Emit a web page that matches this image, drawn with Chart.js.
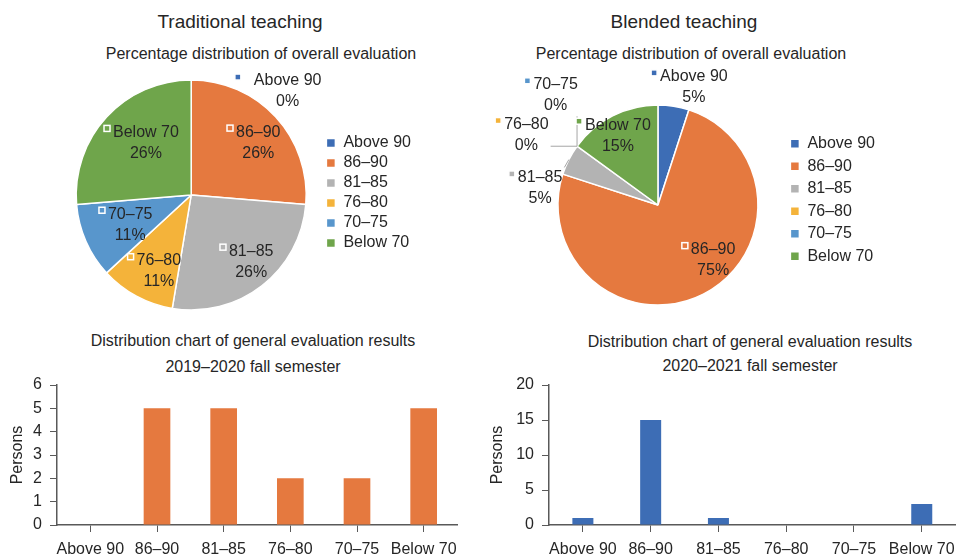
<!DOCTYPE html>
<html>
<head>
<meta charset="utf-8">
<script src="https://cdn.jsdelivr.net/npm/chart.js@4.4.1/dist/chart.umd.min.js"></script>
<style>
  body { margin: 0; background: #fff; font-family: "Liberation Sans", Arial, sans-serif; color: #262626; }
  #page { position: relative; width: 963px; height: 556px; overflow: hidden; }
  .t { position: absolute; white-space: nowrap; transform: translateX(-50%); line-height: 20px; }
  .big { font-size: 19px; }
  .sub { font-size: 16px; }
  canvas { position: absolute; }
</style>
</head>
<body>
<div id="page">
  <div class="t big" style="left:240px; top:12px;">Traditional teaching</div>
  <div class="t big" style="left:684px; top:12px;">Blended teaching</div>
  <div class="t sub" style="left:261px; top:44px;">Percentage distribution of overall evaluation</div>
  <div class="t sub" style="left:691px; top:44px;">Percentage distribution of overall evaluation</div>
  <div class="t sub" style="left:253px; top:331px;">Distribution chart of general evaluation results</div>
  <div class="t sub" style="left:253px; top:357px;">2019–2020 fall semester</div>
  <div class="t sub" style="left:750px; top:332px;">Distribution chart of general evaluation results</div>
  <div class="t sub" style="left:750px; top:356px;">2020–2021 fall semester</div>

  <canvas id="pieTrad" style="left:0px; top:55px;" width="421" height="260"></canvas>
  <canvas id="pieBlend" style="left:480px; top:55px;" width="405" height="280"></canvas>
  <canvas id="barTrad" style="left:0px; top:375px;" width="480" height="181"></canvas>
  <canvas id="barBlend" style="left:480px; top:375px;" width="483" height="181"></canvas>
</div>

<script>
// --- DATA ---
const categories = ["Above 90", "86–90", "81–85", "76–80", "70–75", "Below 70"];
const traditionalPersons = [0, 5, 5, 2, 2, 5];   // 2019–2020 fall semester
const blendedPersons = [1, 15, 1, 0, 0, 3];      // 2020–2021 fall semester
const tradTicks = [0, 1, 2, 3, 4, 5, 6];
const blendTicks = [0, 5, 10, 15, 20];

// slice colours (Excel-ish palette)
const sliceColors = ["#3D6DB5", "#E5793F", "#B3B3B3", "#F4B33A", "#5896CC", "#6FA54B"];

// label placement for the pie data labels: [angle from 12 o'clock in deg, distance as share of radius]
const tradLabelPlace = [[43, 1.23], [52, 0.74], [138, 0.78], [203, 0.72], [244, 0.59], [319, 0.6]];
const blendLabelPlace = [[17, 1.23], [135, 0.78], [278, 1.19], [298, 1.49], [317, 1.5], [330, 0.8]];

const FONT = '"Liberation Sans", Arial, sans-serif';
const TEXT = '#262626';
const AXIS = '#595959';
Chart.defaults.font.family = FONT;
Chart.defaults.color = TEXT;

// --- PIE DATA LABELS (square key + name + percentage) ---
const pieLabels = {
    id: 'pieLabels',
    afterLayout(chart, args, opts) {
        // nudge the legend up a little
        if (chart.legend && opts.legendShift) {
            chart.legend.top -= opts.legendShift;
            chart.legend.bottom -= opts.legendShift;
        }
    },
    afterDatasetsDraw(chart, args, opts) {
        const ctx = chart.ctx;
        const meta = chart.getDatasetMeta(0);
        const data = chart.data.datasets[0].data;
        const total = data.reduce((a, b) => a + b, 0);
        ctx.save();
        ctx.font = '16px ' + FONT;
        ctx.textBaseline = 'middle';
        ctx.textAlign = 'center';
        meta.data.forEach((arc, i) => {
            const p = arc.getProps(['x', 'y', 'outerRadius', 'startAngle', 'endAngle'], true);
            const [deg, k] = opts.place[i];
            const a = deg * Math.PI / 180;
            const tx = p.x + Math.sin(a) * k * p.outerRadius;
            const ty = p.y - Math.cos(a) * k * p.outerRadius;
            const name = chart.data.labels[i];
            const pct = Math.round(data[i] / total * 100) + '%';
            const w = Math.max(ctx.measureText(name).width, ctx.measureText(pct).width);
            const y1 = ty - 10.5, y2 = ty + 10.5;

            // leader line for labels outside the pie
            if (opts.leaders && k > 1.05) {
                const mid = (p.startAngle + p.endAngle) / 2;
                const ex = p.x + Math.cos(mid) * p.outerRadius;
                const ey = p.y + Math.sin(mid) * p.outerRadius;
                const bx = Math.min(Math.max(ex, tx - w / 2 - 2), tx + w / 2 + 2);
                const by = Math.min(Math.max(ey, ty - 21), ty + 21);
                if (Math.hypot(ex - bx, ey - by) > 4) {
                    ctx.strokeStyle = '#A6A6A6';
                    ctx.lineWidth = 1;
                    ctx.beginPath();
                    ctx.moveTo(bx, by);
                    ctx.lineTo(ex, ey);
                    ctx.stroke();
                }
            }

            ctx.fillStyle = TEXT;
            ctx.fillText(name, tx, y1);
            ctx.fillText(pct, tx, y2);

            // legend key square
            const nw = ctx.measureText(name).width;
            const sx = tx - nw / 2 - (opts.keyGap[i] || 9), sy = y1 - 7;
            ctx.fillStyle = sliceColors[i];
            ctx.fillRect(sx, sy, 6, 6);
            ctx.strokeStyle = '#ffffff';
            ctx.lineWidth = 1.5;
            ctx.strokeRect(sx, sy, 6, 6);
        });
        ctx.restore();
    }
};

function pieChart(id, values, place, radius, padLeft, legendPad, legendShift, leaders, keyGap) {
    return new Chart(document.getElementById(id), {
        type: 'pie',
        data: {
            labels: categories,
            datasets: [{
                data: values,
                backgroundColor: sliceColors,
                borderColor: '#ffffff',
                borderWidth: 1.5
            }]
        },
        options: {
            responsive: false,
            animation: false,
            radius: radius,
            layout: { padding: { left: padLeft, right: 0, top: 20, bottom: 0 } },
            plugins: {
                legend: {
                    position: 'right',
                    labels: {
                        boxWidth: 9,
                        boxHeight: 9,
                        padding: legendPad,
                        color: TEXT,
                        font: { size: 16, family: FONT }
                    }
                },
                tooltip: { enabled: false },
                pieLabels: { place: place, legendShift: legendShift, leaders: leaders, keyGap: keyGap }
            }
        },
        plugins: [pieLabels]
    });
}

function barChart(id, values, color, ticks, barPct, yWidth, padRight) {
    const maxY = ticks[ticks.length - 1];
    const step = ticks[1] - ticks[0];
    return new Chart(document.getElementById(id), {
        type: 'bar',
        data: {
            labels: categories,
            datasets: [{
                data: values,
                backgroundColor: color,
                barPercentage: barPct,
                categoryPercentage: 1.0
            }]
        },
        options: {
            responsive: false,
            animation: false,
            layout: { padding: { left: 0, right: padRight, top: 10, bottom: 0 } },
            plugins: { legend: { display: false }, tooltip: { enabled: false } },
            scales: {
                x: {
                    grid: { display: true, drawOnChartArea: false, offset: false, color: AXIS, tickLength: 7 },
                    border: { display: true, color: AXIS, width: 1.5 },
                    ticks: { color: TEXT, font: { size: 16 }, padding: 8, maxRotation: 0, autoSkip: false },
                    afterFit: (s) => { s.height = 31; }
                },
                y: {
                    min: 0,
                    max: maxY,
                    grid: { display: true, drawOnChartArea: false, color: AXIS, tickLength: 7 },
                    border: { display: true, color: AXIS, width: 1.5 },
                    ticks: { stepSize: step, color: TEXT, font: { size: 16 }, padding: 8, autoSkip: false },
                    title: { display: true, text: 'Persons', color: TEXT, font: { size: 16 }, padding: { top: 8, bottom: 0 } },
                    afterFit: (s) => { s.width = yWidth; s.paddingTop = 0; s.paddingBottom = 0; }
                }
            }
        }
    });
}

pieChart('pieTrad', traditionalPersons, tradLabelPlace, 115, 60, 4, 2, false, [19, 9, 9, 9, 9, 9]);
pieChart('pieBlend', blendedPersons, blendLabelPlace, 100, 52, 6.5, 5, true, [9, 9, 9, 9, 9, 9]);
barChart('barTrad', traditionalPersons, '#E5793F', tradTicks, 0.4, 57, 23);
barChart('barBlend', blendedPersons, '#3D6DB5', blendTicks, 0.31, 69, 4);
</script>
</body>
</html>
